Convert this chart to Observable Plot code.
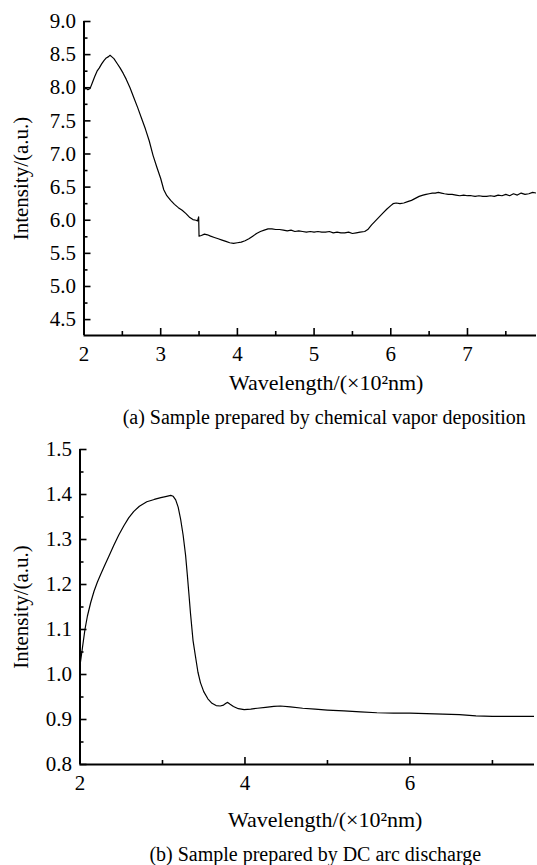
<!DOCTYPE html>
<html><head><meta charset="utf-8">
<script src="https://cdn.jsdelivr.net/npm/d3@7"></script>
<script src="https://cdn.jsdelivr.net/npm/@observablehq/plot@0.6"></script>
<style>
body{margin:0;background:#fff;}
#wrap{position:relative;width:537px;height:865px;overflow:hidden;}
#wrap svg{position:absolute;left:0;}
</style></head><body><div id="wrap"></div>
<script>
// (a) chemical vapor deposition
const cvdWavelength = [2.00,2.02,2.05,2.08,2.11,2.14,2.17,2.20,2.23,2.26,2.29,2.32,2.34,2.36,2.39,2.43,2.47,2.51,2.55,2.60,2.65,2.70,2.75,2.80,2.85,2.90,2.95,3.00,3.04,3.08,3.13,3.18,3.23,3.28,3.33,3.38,3.42,3.46,3.48,3.495,3.50,3.53,3.57,3.61,3.65,3.70,3.75,3.80,3.85,3.90,3.95,4.00,4.05,4.10,4.15,4.20,4.25,4.30,4.35,4.40,4.45,4.50,4.55,4.60,4.65,4.70,4.75,4.80,4.85,4.90,4.95,5.00,5.05,5.10,5.15,5.20,5.25,5.30,5.35,5.40,5.45,5.50,5.55,5.60,5.66,5.70,5.75,5.80,5.85,5.90,5.95,6.00,6.03,6.07,6.12,6.17,6.22,6.27,6.32,6.37,6.42,6.46,6.50,6.54,6.58,6.62,6.66,6.70,6.75,6.80,6.85,6.90,6.95,7.00,7.05,7.10,7.15,7.20,7.25,7.30,7.35,7.40,7.45,7.50,7.55,7.60,7.65,7.70,7.75,7.80,7.85,7.90];
const cvdIntensity = [7.95,8.00,7.97,7.99,8.08,8.17,8.25,8.30,8.36,8.41,8.45,8.47,8.49,8.47,8.44,8.37,8.30,8.22,8.13,8.00,7.85,7.70,7.54,7.38,7.20,6.98,6.80,6.63,6.46,6.37,6.30,6.24,6.19,6.15,6.10,6.04,6.01,6.00,5.99,6.05,5.76,5.77,5.79,5.78,5.76,5.74,5.72,5.70,5.68,5.66,5.65,5.66,5.67,5.69,5.72,5.76,5.80,5.83,5.85,5.87,5.87,5.86,5.86,5.85,5.84,5.85,5.83,5.84,5.83,5.82,5.83,5.82,5.83,5.82,5.82,5.83,5.81,5.82,5.81,5.81,5.82,5.80,5.81,5.82,5.83,5.86,5.93,5.99,6.05,6.11,6.17,6.22,6.25,6.26,6.25,6.26,6.28,6.30,6.33,6.36,6.38,6.39,6.40,6.41,6.41,6.42,6.41,6.40,6.39,6.39,6.38,6.37,6.38,6.37,6.37,6.36,6.37,6.36,6.36,6.37,6.36,6.38,6.37,6.39,6.37,6.40,6.38,6.41,6.39,6.40,6.42,6.41,6.42,6.42];
const cvdXMajor = [2,3,4,5,6,7];
const cvdXMinor = [2.5,3.5,4.5,5.5,6.5,7.5];
const cvdYMajor = [4.5,5.0,5.5,6.0,6.5,7.0,7.5,8.0,8.5,9.0];
const cvdYMinor = [4.75,5.25,5.75,6.25,6.75,7.25,7.75,8.25,8.75];

// (b) DC arc discharge
const arcWavelength = [2.00,2.03,2.06,2.09,2.13,2.17,2.21,2.25,2.30,2.35,2.41,2.47,2.53,2.59,2.65,2.72,2.81,2.90,2.98,3.05,3.10,3.13,3.16,3.19,3.22,3.25,3.28,3.30,3.32,3.34,3.37,3.40,3.43,3.46,3.50,3.55,3.60,3.65,3.70,3.74,3.77,3.79,3.82,3.86,3.92,3.99,4.07,4.15,4.25,4.35,4.43,4.55,4.70,4.85,5.00,5.20,5.40,5.60,5.80,6.00,6.20,6.40,6.60,6.80,7.00,7.20,7.40,7.51];
const arcIntensity = [1.02,1.06,1.10,1.13,1.16,1.185,1.205,1.222,1.243,1.263,1.287,1.31,1.33,1.348,1.362,1.374,1.384,1.389,1.393,1.396,1.398,1.396,1.388,1.372,1.345,1.31,1.265,1.224,1.18,1.135,1.076,1.04,1.005,0.982,0.962,0.946,0.936,0.931,0.930,0.932,0.936,0.938,0.934,0.929,0.924,0.922,0.923,0.925,0.927,0.929,0.930,0.928,0.925,0.923,0.921,0.919,0.917,0.915,0.914,0.914,0.913,0.912,0.911,0.908,0.907,0.907,0.907,0.907];
const arcXMajor = [2,4,6];
const arcXMinor = [3,5,7];
const arcYMajor = [0.8,0.9,1.0,1.1,1.2,1.3,1.4,1.5];
const arcYMinor = [0.85,0.95,1.05,1.15,1.25,1.35,1.45];

const yLabel = "Intensity/(a.u.)";
const xLabel = "Wavelength/(\u00d710\u00b2nm)";
const captionA = "(a) Sample prepared by chemical vapor deposition";
const captionB = "(b) Sample prepared by DC arc discharge";

const FONT = "'Liberation Serif', 'Times New Roman', serif";

function panel(o) {
  const W = 537;
  const plotW = W - o.marginLeft - o.marginRight;
  const plotH = o.height - o.marginTop - o.marginBottom;
  const idx = d3.range(o.xs.length);
  return Plot.plot({
    width: W, height: o.height,
    marginLeft: o.marginLeft, marginRight: o.marginRight,
    marginTop: o.marginTop, marginBottom: o.marginBottom,
    style: {fontFamily: FONT, color: "black", background: "white", overflow: "visible"},
    x: {domain: o.xDomain},
    y: {domain: o.yDomain},
    marks: [
      Plot.axisX({ticks: o.xMajor, tickSize: 0, tickPadding: 11, fontSize: 21, label: null, tickFormat: d => String(d)}),
      Plot.axisY({ticks: o.yMajor, tickSize: 0, tickPadding: 8, fontSize: 21, label: null, tickFormat: d3.format(".1f")}),
      Plot.tickX(o.xMajor, {x: d => d, insetTop: plotH - 7, stroke: "black", strokeWidth: 1.6}),
      Plot.tickX(o.xMinor, {x: d => d, insetTop: plotH - 4, stroke: "black", strokeWidth: 1.6}),
      Plot.tickY(o.yMajor, {y: d => d, insetRight: plotW - 7, stroke: "black", strokeWidth: 1.6}),
      Plot.tickY(o.yMinor, {y: d => d, insetRight: plotW - 4, stroke: "black", strokeWidth: 1.6}),
      Plot.ruleX([o.xDomain[0]], {stroke: "black", strokeWidth: 2}),
      Plot.ruleY([o.yDomain[0]], {stroke: "black", strokeWidth: 2}),
      Plot.line(idx, {x: i => o.xs[i], y: i => o.ys[i], stroke: "black", strokeWidth: 1.2, clip: true}),
      Plot.text([yLabel], {text: d => d, frameAnchor: "left", textAnchor: "middle", lineAnchor: "middle", dx: -(o.marginLeft - 21), rotate: -90, fontSize: 21, fill: "black"}),
      Plot.text([xLabel], {text: d => d, frameAnchor: "bottom", textAnchor: "middle", lineAnchor: "middle", dx: o.labelDx, dy: o.labelDy, fontSize: 22, fill: "black"}),
      Plot.text([o.caption], {text: d => d, frameAnchor: "bottom", textAnchor: "middle", lineAnchor: "middle", dx: o.captionDx, dy: o.captionDy, fontSize: 20, fill: "black"})
    ]
  });
}

const wrap = document.getElementById("wrap");
const a = panel({
  xs: cvdWavelength, ys: cvdIntensity,
  xDomain: [2, 7.9], yDomain: [4.26, 9.0],
  xMajor: cvdXMajor, xMinor: cvdXMinor, yMajor: cvdYMajor, yMinor: cvdYMinor,
  marginLeft: 83.5, marginRight: 1, marginTop: 21, marginBottom: 100, height: 435,
  labelDx: 16, labelDy: 47, caption: captionA, captionDx: 14, captionDy: 82
});
a.style.top = "0px";
wrap.appendChild(a);
const b = panel({
  xs: arcWavelength, ys: arcIntensity,
  xDomain: [2, 7.51], yDomain: [0.8, 1.5],
  xMajor: arcXMajor, xMinor: arcXMinor, yMajor: arcYMajor, yMinor: arcYMinor,
  marginLeft: 79.5, marginRight: 3, marginTop: 19, marginBottom: 101, height: 435,
  labelDx: 18, labelDy: 55, caption: captionB, captionDx: 8, captionDy: 90
});
b.style.top = "430px";
wrap.appendChild(b);
</script>
</body></html>
